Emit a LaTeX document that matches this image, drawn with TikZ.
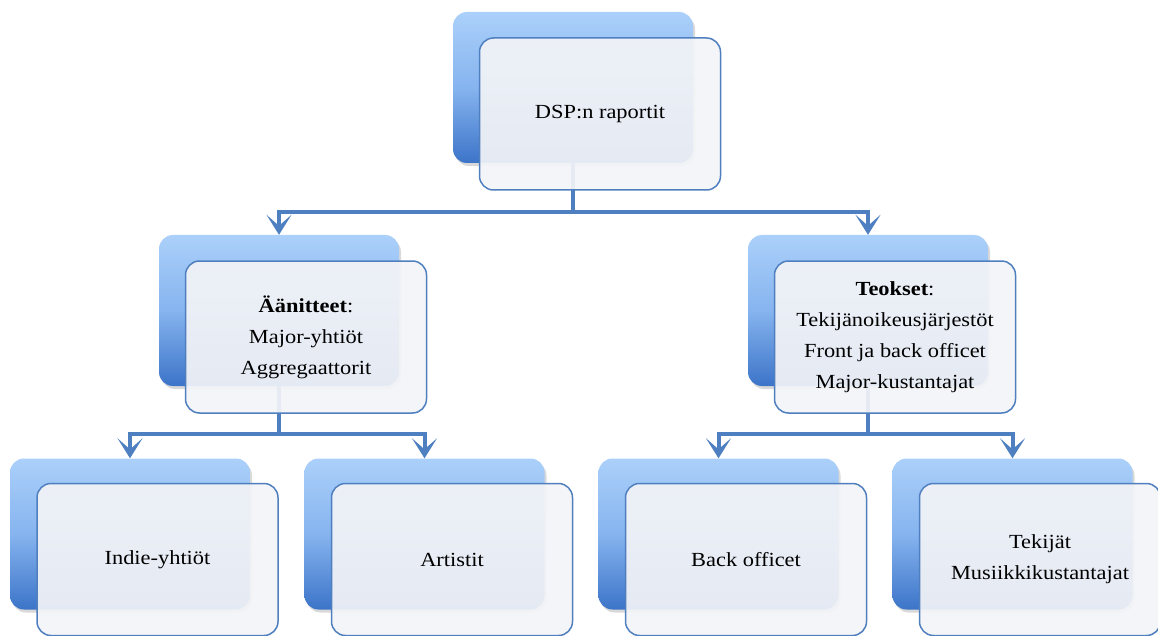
\documentclass[tikz,border=0pt]{standalone}
\usepackage{fontspec}
\setmainfont{Liberation Serif}[FakeStretch=1.12]
\usetikzlibrary{arrows.meta,shadows}
\definecolor{lineblue}{HTML}{4E7FC0}
\definecolor{boxtop}{HTML}{ABD0FA}
\definecolor{boxmid}{HTML}{86B4EF}
\definecolor{boxbot}{HTML}{3C74C8}
\definecolor{frontfill}{HTML}{F3F4F7}
\definecolor{frontdraw}{HTML}{4F7FBE}
\begin{document}
\begin{tikzpicture}[x=1pt,y=-1pt,
 back/.style={rectangle, rounded corners=14pt, minimum width=240pt, minimum height=151pt, inner sep=0pt,
   top color=boxtop, bottom color=boxbot, middle color=boxmid, draw=none,
   drop shadow={opacity=0.3, shadow xshift=2pt, shadow yshift=-3pt}},
 front/.style={rectangle, rounded corners=14pt, minimum width=241pt, minimum height=152pt, inner sep=0pt,
   fill=frontfill, fill opacity=0.92, text opacity=1, draw=frontdraw, line width=1.5pt,
   align=center, font=\fontsize{20}{31}\selectfont},
 conn/.style={draw=lineblue, line width=4pt, -{Stealth[length=20pt,width=25pt,inset=11pt]}}]
\clip (0,0) rectangle (1158,636);
% back boxes
\node[back] (b0) at (573,87.5) {};
\node[back] (b1) at (279,310.5) {};
\node[back] (b2) at (868,310.5) {};
\node[back] (b3) at (130,534) {};
\node[back] (b4) at (424.5,534) {};
\node[back] (b5) at (718.5,534) {};
\node[back] (b6) at (1012.5,534) {};
% connectors
\draw[conn] (b0.south) -- ++(0,49) -| (b1.north);
\draw[conn] (b0.south) -- ++(0,49) -| (b2.north);
\draw[conn] (b1.south) -- ++(0,48) -| (b3.north);
\draw[conn] (b1.south) -- ++(0,48) -| (b4.north);
\draw[conn] (b2.south) -- ++(0,48) -| (b5.north);
\draw[conn] (b2.south) -- ++(0,48) -| (b6.north);
% front boxes
\node[front] (f0) at (600,114) {DSP:n raportit};
\node[front] (f1) at (306,337) {\textbf{Äänitteet}:\\Major-yhtiöt\\Aggregaattorit};
\node[front] (f2) at (895,337) {\textbf{Teokset}:\\Tekijänoikeusjärjestöt\\Front ja back officet\\Major-kustantajat};
\node[front] (f3) at (157.5,559.5) {Indie-yhtiöt};
\node[front] (f4) at (452,559.5) {Artistit};
\node[front] (f5) at (746,559.5) {Back officet};
\node[front] (f6) at (1040,559.5) {Tekijät\\Musiikkikustantajat};
\end{tikzpicture}
\end{document}
